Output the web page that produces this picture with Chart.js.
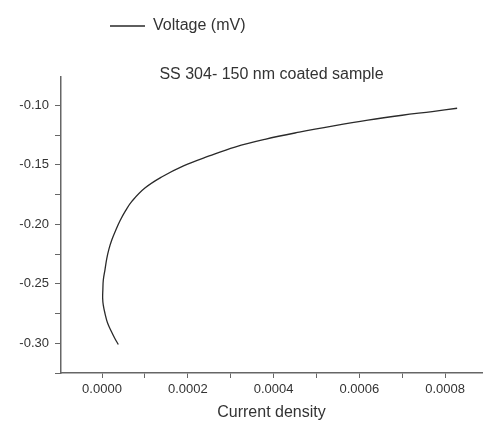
<!DOCTYPE html>
<html>
<head>
<meta charset="utf-8">
<script src="https://cdn.jsdelivr.net/npm/chart.js@4"></script>
<style>
html,body{margin:0;padding:0;background:#fff;}
#wrap{width:483px;height:422px;position:relative;}
</style>
</head>
<body>
<div id="wrap"><canvas id="c" width="483" height="422"></canvas></div>
<script>
const chartTitle = "SS 304- 150 nm coated sample";
const seriesName = "Voltage (mV)";
const xAxisTitle = "Current density";
const currentDensity = [0.000038,0.000030,0.000023,0.000013,0.000007,0.000003,0.0000015,0.000002,0.000003,0.000007,0.000011,0.000016,0.000023,0.000032,0.000042,0.000055,0.000070,0.000100,0.000140,0.000190,0.000250,0.000310,0.000380,0.000460,0.000540,0.000620,0.000700,0.000770,0.000828];
const voltage = [-0.301,-0.296,-0.291,-0.283,-0.275,-0.268,-0.262,-0.255,-0.247,-0.238,-0.229,-0.221,-0.213,-0.205,-0.197,-0.1885,-0.1805,-0.1695,-0.1600,-0.1508,-0.1425,-0.1350,-0.1285,-0.1225,-0.1172,-0.1124,-0.1083,-0.1052,-0.1024];
const xRange = [-0.0000956, 0.000886];
const yRange = [-0.325, -0.0763];
const xStep = 0.0001, xLabelStep = 0.0002;
const yStep = 0.025, yLabelStep = 0.05;

const points = currentDensity.map((x,i)=>({x:x,y:voltage[i]}));
const FONT = "'Liberation Sans', Arial, sans-serif";
const isMult = (v,s)=>Math.abs(v/s - Math.round(v/s)) < 1e-6;

const boxShift = {
  id:'boxShift',
  afterLayout(chart){
    chart.legend.left += 100; chart.legend.right += 100;
    const ca = chart.chartArea, tb = chart.titleBlock;
    const d = (ca.left + ca.right)/2 - (tb.left + tb.right)/2;
    tb.left += d; tb.right += d;
  }
};

new Chart(document.getElementById('c'), {
  type:'scatter',
  data:{datasets:[{label:seriesName,data:points,showLine:true,borderColor:'#2a2a2a',backgroundColor:'#2a2a2a',borderWidth:1.3,pointRadius:0,tension:0.4}]},
  options:{
    responsive:false,animation:false,
    layout:{padding:{top:8,left:0,right:1,bottom:0}},
    plugins:{
      legend:{position:'top',align:'start',weight:3000,labels:{font:{family:FONT,size:16},color:'#333',boxWidth:35,boxHeight:0,padding:10}},
      title:{display:true,text:chartTitle,font:{family:FONT,size:16,weight:'normal'},color:'#333',padding:{top:21,bottom:-7}},
      tooltip:{enabled:false}
    },
    scales:{
      x:{type:'linear',min:xRange[0],max:xRange[1],
        border:{display:true,color:'#666',width:1.5},
        grid:{drawOnChartArea:false,drawTicks:true,tickLength:5,color:'#666',lineWidth:1},
        ticks:{stepSize:xStep,includeBounds:false,autoSkip:false,maxRotation:0,padding:4,color:'#333',font:{family:FONT,size:13},
          callback:v=>isMult(v,xLabelStep)?v.toFixed(4):''},
        title:{display:true,text:xAxisTitle,font:{family:FONT,size:16},color:'#333',padding:{top:0,bottom:0}},
        afterFit:s=>{s.height=49;}
      },
      y:{type:'linear',min:yRange[0],max:yRange[1],
        border:{display:true,color:'#666',width:1.5},
        grid:{drawOnChartArea:false,drawTicks:true,tickLength:6,color:'#666',lineWidth:1},
        ticks:{stepSize:yStep,includeBounds:false,autoSkip:false,padding:6,color:'#333',font:{family:FONT,size:13},
          callback:v=>isMult(v,yLabelStep)?v.toFixed(2):''},
        afterFit:s=>{s.width=61;}
      }
    }
  },
  plugins:[boxShift]
});
</script>
</body>
</html>
